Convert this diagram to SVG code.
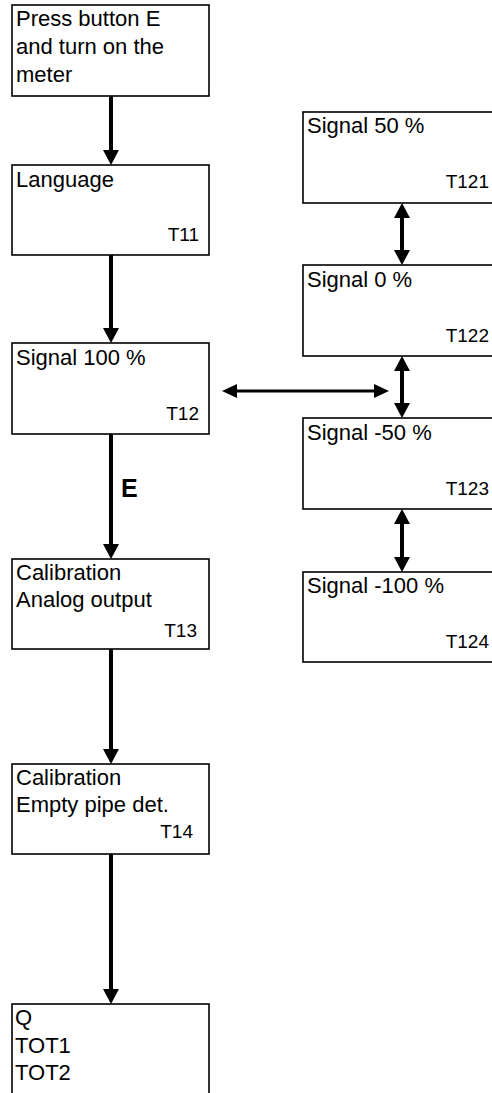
<svg xmlns="http://www.w3.org/2000/svg" width="492" height="1093" viewBox="0 0 492 1093">
<style>
.box{fill:#fff;stroke:#000;stroke-width:1.6}
.t{font-family:"Liberation Sans",Arial,sans-serif;font-size:22px;fill:#000}
.c{font-family:"Liberation Sans",Arial,sans-serif;font-size:19px;fill:#000;text-anchor:end}
.v{stroke:#000;stroke-width:4;fill:none}
.h{stroke:#000;stroke-width:3;fill:none}
.lbl{font-family:"Liberation Sans",Arial,sans-serif;font-size:25px;font-weight:bold;fill:#000}
</style>
<defs>
<marker id="ah" markerUnits="userSpaceOnUse" viewBox="0 0 15 16" markerWidth="15" markerHeight="16" refX="0" refY="8" orient="auto-start-reverse">
<path d="M0,0 L15,8 L0,16 z" fill="#000"/>
</marker>
<marker id="ahs" markerUnits="userSpaceOnUse" viewBox="0 0 15 14" markerWidth="15" markerHeight="14" refX="0" refY="7" orient="auto-start-reverse">
<path d="M0,0 L15,7 L0,14 z" fill="#000"/>
</marker>
</defs>
<rect width="492" height="1093" fill="#fff"/>
<g id="connectors">
<line class="v" x1="111" y1="96" x2="111" y2="150" marker-end="url(#ah)"/>
<line class="v" x1="111" y1="255" x2="111" y2="328" marker-end="url(#ah)"/>
<line class="v" x1="111" y1="434" x2="111" y2="544" marker-end="url(#ah)"/>
<line class="v" x1="111" y1="649" x2="111" y2="749" marker-end="url(#ah)"/>
<line class="v" x1="111" y1="854" x2="111" y2="989" marker-end="url(#ah)"/>
<line class="h" x1="237" y1="391" x2="374" y2="391" marker-start="url(#ahs)" marker-end="url(#ahs)"/>
<line class="v" x1="402" y1="218" x2="402" y2="250" marker-start="url(#ah)" marker-end="url(#ah)"/>
<line class="v" x1="402" y1="371" x2="402" y2="403" marker-start="url(#ah)" marker-end="url(#ah)"/>
<line class="v" x1="402" y1="524" x2="402" y2="557" marker-start="url(#ah)" marker-end="url(#ah)"/>
<text class="lbl" x="121" y="497">E</text>
</g>
<g id="n-start">
<rect class="box" x="12" y="5" width="197" height="91"/>
<text class="t" x="16" y="26">Press button E</text>
<text class="t" x="16" y="54">and turn on the</text>
<text class="t" x="16" y="82">meter</text>
</g>
<g id="n-t11">
<rect class="box" x="12" y="165" width="197" height="90"/>
<text class="t" x="16" y="187">Language</text>
<text class="c" x="199" y="241">T11</text>
</g>
<g id="n-t12">
<rect class="box" x="12" y="343" width="197" height="91"/>
<text class="t" x="16" y="365">Signal 100 %</text>
<text class="c" x="199" y="420">T12</text>
</g>
<g id="n-t13">
<rect class="box" x="12" y="559" width="197" height="90"/>
<text class="t" x="16" y="580">Calibration</text>
<text class="t" x="16" y="607">Analog output</text>
<text class="c" x="197" y="637">T13</text>
</g>
<g id="n-t14">
<rect class="box" x="12" y="764" width="197" height="90"/>
<text class="t" x="16" y="785">Calibration</text>
<text class="t" x="16" y="812">Empty pipe det.</text>
<text class="c" x="193" y="838">T14</text>
</g>
<g id="n-q">
<rect class="box" x="12" y="1004" width="197" height="100"/>
<text class="t" x="15" y="1025">Q</text>
<text class="t" x="15" y="1053">TOT1</text>
<text class="t" x="15" y="1080">TOT2</text>
</g>
<g id="n-t121">
<rect class="box" x="303" y="112" width="197" height="91"/>
<text class="t" x="307" y="133">Signal 50 %</text>
<text class="c" x="489" y="188">T121</text>
</g>
<g id="n-t122">
<rect class="box" x="303" y="265" width="197" height="91"/>
<text class="t" x="307" y="287">Signal 0 %</text>
<text class="c" x="489" y="342">T122</text>
</g>
<g id="n-t123">
<rect class="box" x="303" y="418" width="197" height="91"/>
<text class="t" x="307" y="440">Signal -50 %</text>
<text class="c" x="489" y="495">T123</text>
</g>
<g id="n-t124">
<rect class="box" x="303" y="572" width="197" height="90"/>
<text class="t" x="307" y="593">Signal -100 %</text>
<text class="c" x="489" y="648">T124</text>
</g>
</svg>
